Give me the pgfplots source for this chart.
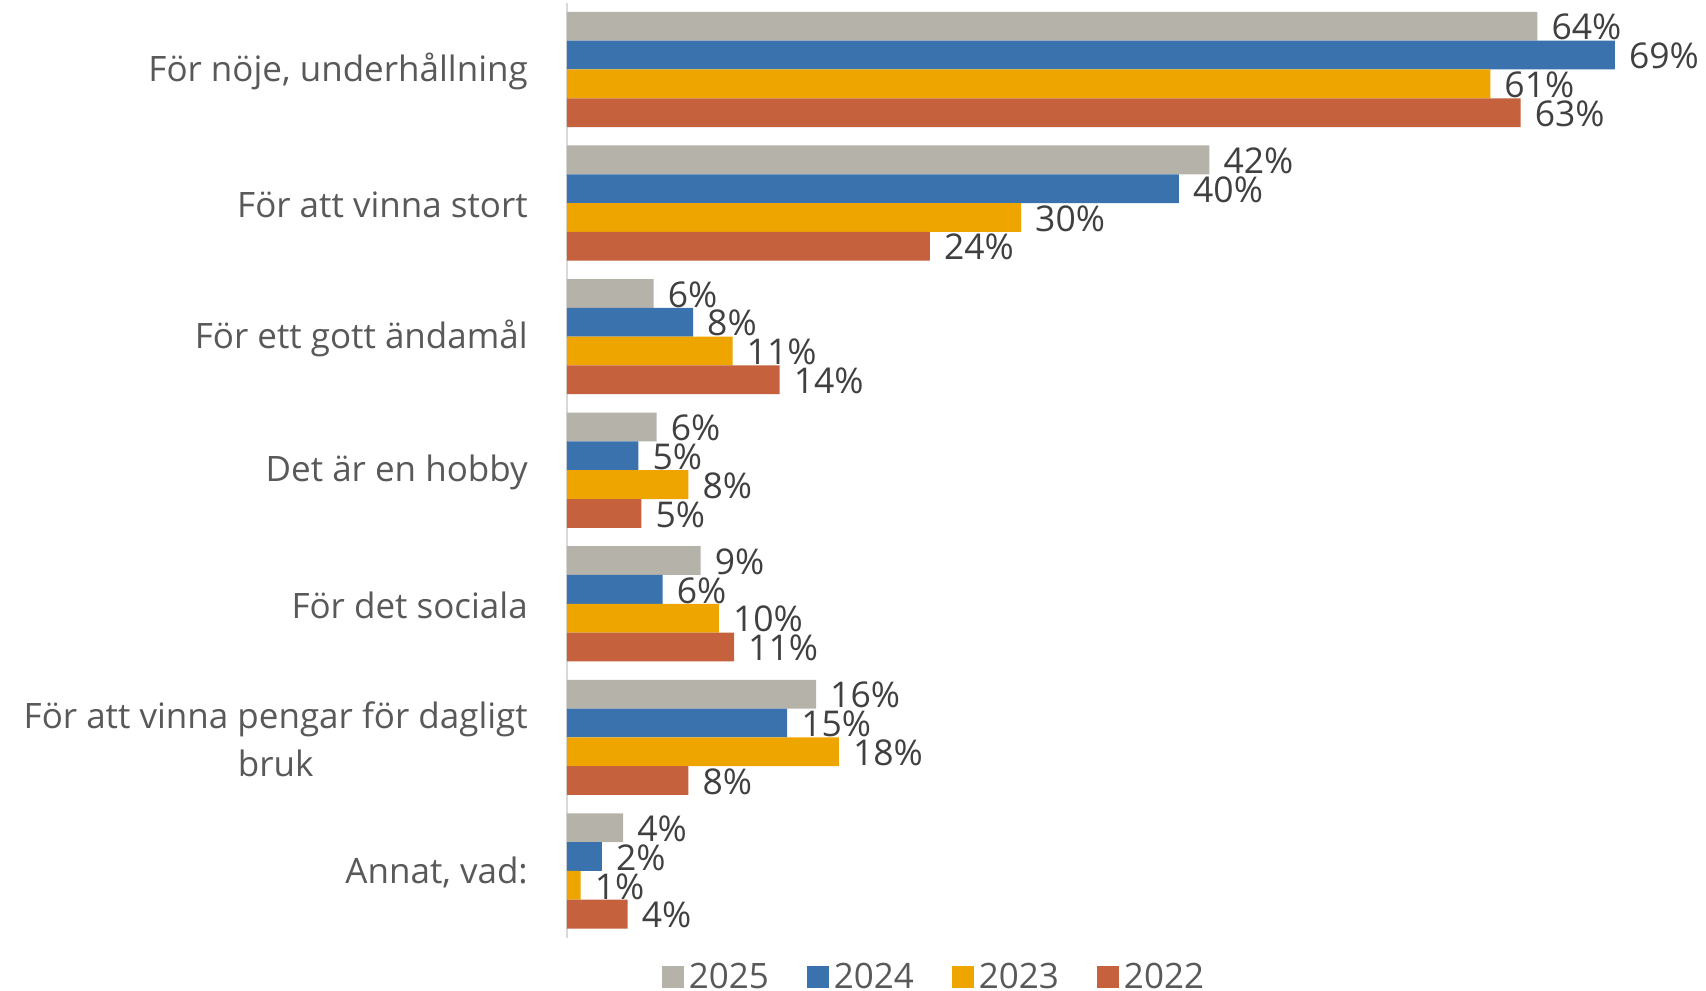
\documentclass[border=0pt]{standalone}
\usepackage{fontspec}
\setmainfont{Open Sans}
\usepackage{pgfplots}
\usepackage{pgfplotstable}
\pgfplotsset{compat=1.18}
\definecolor{c25}{RGB}{181,178,170}
\definecolor{c24}{RGB}{58,114,174}
\definecolor{c23}{RGB}{238,165,0}
\definecolor{c22}{RGB}{197,98,61}
\definecolor{labgray}{RGB}{89,89,89}
\definecolor{valgray}{RGB}{64,64,64}
\definecolor{axgray}{RGB}{217,217,217}

\pgfplotstableread{
cat v lab
0 63.9 64
1 42.3 42
2 5.7 6
3 5.9 6
4 8.8 9
5 16.4 16
6 3.7 4
}\tblA
\pgfplotstableread{
cat v lab
0 69.0 69
1 40.3 40
2 8.3 8
3 4.7 5
4 6.3 6
5 14.5 15
6 2.3 2
}\tblB
\pgfplotstableread{
cat v lab
0 60.8 61
1 29.9 30
2 10.9 11
3 8.0 8
4 10.0 10
5 17.9 18
6 0.9 1
}\tblC
\pgfplotstableread{
cat v lab
0 62.8 63
1 23.9 24
2 14.0 14
3 4.9 5
4 11.0 11
5 8.0 8
6 4.0 4
}\tblD

\begin{document}
\begin{tikzpicture}
\path[use as bounding box] (-567pt,-53.2pt) rectangle (1139pt,937.7pt);
\begin{axis}[
  scale only axis,
  width=1139pt, height=935pt,
  xmin=0, xmax=75,
  ymin=-0.5, ymax=6.5,
  y dir=reverse,
  xbar,
  bar width=0.2156,
  clip=false,
  axis x line=none,
  axis y line=left,
  y axis line style={-, draw=axgray, line width=1.5pt},
  major tick length=0pt,
  ytick={0,1,2,3,4,5,6},
  yticklabels={{För nöje, underhållning},{För att vinna stort},{För ett gott ändamål},{Det är en hobby},{För det sociala},{För att vinna pengar för dagligt\\bruk},{Annat, vad:}},
  yticklabel style={align=center, anchor=east, inner sep=0pt, xshift=-39pt, yshift=-2pt,
    font=\fontsize{35}{48}\selectfont, text=labgray},
  point meta=explicit symbolic,
  nodes near coords={\pgfplotspointmeta\%},
  nodes near coords style={anchor=west, inner sep=0pt, xshift=14pt, yshift=-1pt,
    font=\fontsize{35.5}{40}\selectfont, text=valgray},
  legend columns=4,
  legend image code/.code={\fill[#1] (0pt,-11pt) rectangle (22pt,11pt);},
  legend style={at={(axis description cs:0.3235,-0.0415)}, anchor=center,
    draw=none, fill=none, inner sep=0pt,
    font=\fontsize{35}{42}\selectfont, text=labgray,
    nodes={inner xsep=5pt, inner ysep=0pt},
    /tikz/every even column/.append style={column sep=33pt}},
]
\addplot[fill=c25, draw=none, bar shift=-0.3234] table[x=v, y=cat, meta=lab] {\tblA};
\addplot[fill=c24, draw=none, bar shift=-0.1078] table[x=v, y=cat, meta=lab] {\tblB};
\addplot[fill=c23, draw=none, bar shift=0.1078] table[x=v, y=cat, meta=lab] {\tblC};
\addplot[fill=c22, draw=none, bar shift=0.3234] table[x=v, y=cat, meta=lab] {\tblD};
\legend{2025,2024,2023,2022}
\end{axis}
\end{tikzpicture}
\end{document}
